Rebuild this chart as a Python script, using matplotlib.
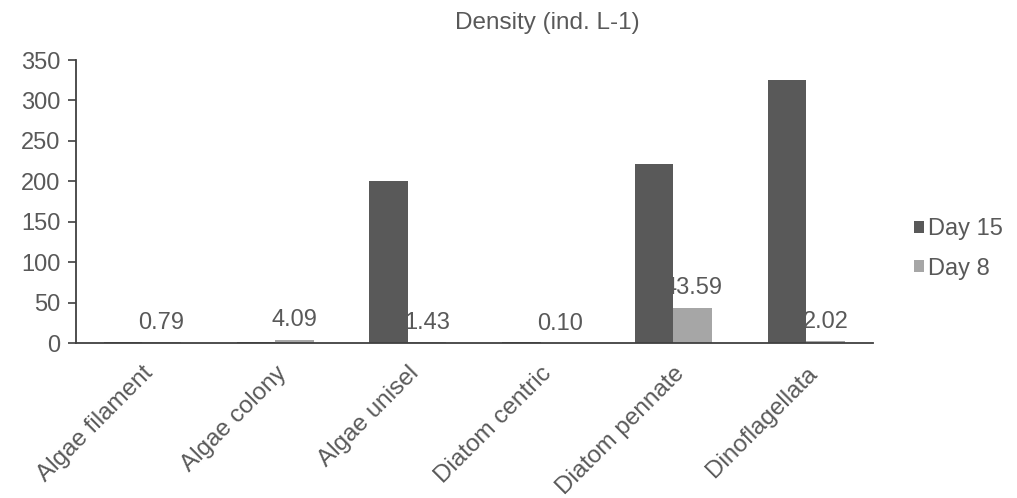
import matplotlib.pyplot as plt
import numpy as np

# plankton density per group, two sampling days
groups = ['Algae filament', 'Algae colony', 'Algae unisel',
          'Diatom centric', 'Diatom pennate', 'Dinoflagellata']
day15 = [1.5, 1.3, 200.0, 1.0, 222.0, 325.0]
day8 = [0.79, 4.09, 1.43, 0.10, 43.59, 2.02]
day8_labels = ['0.79', '4.09', '1.43', '0.10', '43.59', '2.02']
yticks = [0, 50, 100, 150, 200, 250, 300, 350]

plt.rcParams['font.family'] = ['Liberation Sans', 'DejaVu Sans']
txt = '#595959'

fig = plt.figure(figsize=(10.17, 4.98), dpi=100)
ax = fig.add_axes([0.0747, 0.3112, 0.7833, 0.5683])

x = np.arange(len(groups))
w = 0.29
ax.bar(x - w / 2, day15, width=w, color='#595959', label='Day 15')
ax.bar(x + w / 2, day8, width=w, color='#a6a6a6', label='Day 8')

for xi, v, s in zip(x, day8, day8_labels):
    ax.annotate(s, (xi + w / 2, v), xytext=(0, 6), textcoords='offset points',
                ha='center', va='bottom', fontsize=17, color=txt)

ax.set_xlim(-0.5, len(groups) - 0.5)
ax.set_ylim(0, 350)
ax.set_yticks(yticks)
ax.set_xticks(x)
ax.set_xticklabels(groups, rotation=45, ha='right', rotation_mode='anchor',
                   fontsize=17.5, color=txt)
ax.tick_params(axis='x', length=0, pad=14)
ax.tick_params(axis='y', labelsize=17, labelcolor=txt, length=6,
               width=1.2, color='#404040', pad=5)

for side in ['top', 'right']:
    ax.spines[side].set_visible(False)
for side in ['left', 'bottom']:
    ax.spines[side].set_color('#404040')
    ax.spines[side].set_linewidth(1.3)

fig.text(0.538, 0.953, 'Density (ind. L-1)', ha='center', va='center',
         fontsize=17.5, color=txt)

fig.legend(loc='center left', bbox_to_anchor=(0.899, 0.50), frameon=False,
           fontsize=17, labelcolor=txt, handlelength=0.4, handleheight=0.4,
           handletextpad=0.2, labelspacing=0.75, borderpad=0, borderaxespad=0)

fig.savefig('out.png', dpi=100)
